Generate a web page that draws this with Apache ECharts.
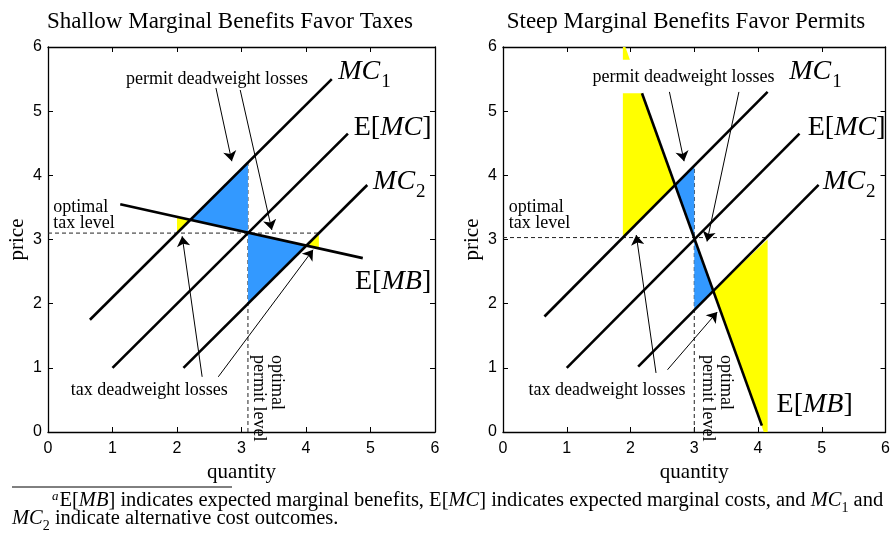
<!DOCTYPE html>
<html>
<head>
<meta charset="utf-8">
<script src="https://cdn.jsdelivr.net/npm/echarts@6/dist/echarts.min.js"></script>
<style>html,body{margin:0;padding:0;background:#fff}#c{width:893px;height:536px}</style>
</head>
<body>
<div id="c"></div>
<script>
// ---------- data ----------
const axisTicks = [0, 1, 2, 3, 4, 5, 6];
const titles = ['Shallow Marginal Benefits Favor Taxes', 'Steep Marginal Benefits Favor Permits'];

// Left panel (shallow MB)
const L_MC1 = [[0.65, 1.75], [4.40, 5.50]];
const L_EMC = [[1.00, 1.00], [4.65, 4.65]];
const L_MC2 = [[2.10, 1.00], [4.95, 3.85]];
const L_EMB = [[1.12, 3.55], [4.88, 2.71]];
const L_taxLevel = [[0, 3.1], [4.2, 3.1]];
const L_permitLevel = [[3.1, 0], [3.1, 4.2]];
const L_blue = [
  [[2.2, 3.3], [3.1, 4.2], [3.1, 3.1]],
  [[3.1, 3.1], [3.1, 2.0], [4.0, 2.9]]
];
const L_yellow = [
  [[2.0, 3.1], [2.0, 3.34], [2.2, 3.3]],
  [[4.0, 2.9], [4.2, 3.1], [4.2, 2.86]]
];
const L_arrows = [
  [[2.60, 5.38], [2.85, 4.22]],
  [[2.98, 5.33], [3.47, 3.15]],
  [[2.39, 0.86], [2.08, 3.05]],
  [[2.64, 0.86], [4.11, 2.84]]
];

// Right panel (steep MB)
const R_MC1 = [[0.65, 1.80], [4.15, 5.30]];
const R_EMC = [[1.00, 1.00], [4.65, 4.65]];
const R_MC2 = [[2.12, 1.02], [4.95, 3.85]];
const R_EMB = [[2.18, 5.28], [4.06, 0.10]];
const R_taxLevel = [[0, 3.03], [4.15, 3.03]];
const R_permitLevel = [[3.0, 0], [3.0, 4.15]];
const R_blue = [
  [[2.70, 3.85], [3.0, 4.15], [3.0, 3.02]],
  [[3.0, 3.0], [3.0, 1.9], [3.3, 2.2]]
];
const R_yellow = [
  [[1.88, 3.03], [1.88, 5.28], [2.18, 5.28], [2.70, 3.85]],
  [[1.88, 5.80], [1.88, 6.00], [1.92, 6.00], [1.99, 5.80]],
  [[3.30, 2.20], [4.15, 3.00], [4.15, 0.00], [4.09, 0.00]]
];
const R_arrows = [
  [[2.61, 5.30], [2.84, 4.22]],
  [[3.70, 5.30], [3.20, 2.97]],
  [[2.40, 0.92], [2.09, 3.07]],
  [[2.58, 0.97], [3.36, 1.87]]
];

// text annotations: [x, y, kind, text]
const L_texts = [
  [2.62, 5.50, 'note', 'permit deadweight losses'],
  [0.08, 3.37, 'noteL', 'optimal\ntax level'],
  [1.57, 0.65, 'note', 'tax deadweight losses'],
  [3.41, 1.20, 'rot', 'optimal\npermit level'],
  [4.50, 5.62, 'big', '{i|MC}{s|1}'],
  [4.74, 4.75, 'big', '{r|E[}{i|MC}{r|]}'],
  [5.04, 3.90, 'big', '{i|MC}{s|2}'],
  [4.76, 2.34, 'big', '{r|E[}{i|MB}{r|]}']
];
const R_texts = [
  [2.83, 5.53, 'note', 'permit deadweight losses'],
  [0.09, 3.37, 'noteL', 'optimal\ntax level'],
  [1.63, 0.65, 'note', 'tax deadweight losses'],
  [3.36, 1.20, 'rot', 'optimal\npermit level'],
  [4.49, 5.62, 'big', '{i|MC}{s|1}'],
  [4.78, 4.75, 'big', '{r|E[}{i|MC}{r|]}'],
  [5.02, 3.90, 'big', '{i|MC}{s|2}'],
  [4.29, 0.42, 'big', '{r|E[}{i|MB}{r|]}']
];

// ---------- styling ----------
const SERIF = '"Liberation Serif", "Times New Roman", serif';
const SANS = '"Liberation Sans", Arial, sans-serif';
const BLUE = '#3399ff';
const YELLOW = '#ffff00';

const bigRich = {
  r: { fontFamily: SERIF, fontSize: 28, fill: '#000' },
  i: { fontFamily: SERIF, fontSize: 28, fontStyle: 'italic', fill: '#000' },
  s: { fontFamily: SERIF, fontSize: 19, fill: '#000', verticalAlign: 'bottom', padding: [0, 0, -6, 1] }
};

function axisCommon(extra) {
  return Object.assign({
    type: 'value', min: 0, max: 6, interval: 1,
    axisLine: { show: true, onZero: false, lineStyle: { color: '#000', width: 1.3 } },
    axisTick: { show: true, inside: true, length: 5, lineStyle: { color: '#000', width: 1 } },
    splitLine: { show: false },
    axisLabel: { color: '#000', fontFamily: SANS, fontSize: 16 }
  }, extra);
}

function xAxes(g) {
  return [
    axisCommon({ gridIndex: g, position: 'bottom', name: 'quantity', nameLocation: 'middle', nameGap: 24,
      nameTextStyle: { fontFamily: SERIF, fontSize: 21, color: '#000' },
      axisLabel: { color: '#000', fontFamily: SANS, fontSize: 16, margin: 9,
        formatter: v => axisTicks.includes(v) ? String(v) : '' } }),
    axisCommon({ gridIndex: g, position: 'top', axisLabel: { show: false } })
  ];
}
function yAxes(g) {
  return [
    axisCommon({ gridIndex: g, position: 'left', name: 'price', nameLocation: 'middle', nameGap: 20,
      nameTextStyle: { fontFamily: SERIF, fontSize: 21, color: '#000' },
      axisLabel: { color: '#000', fontFamily: SANS, fontSize: 16, margin: 6,
        formatter: v => axisTicks.includes(v) ? String(v) : '' } }),
    axisCommon({ gridIndex: g, position: 'right', axisLabel: { show: false } })
  ];
}

function lineSeries(data, xi, yi, dashed) {
  return {
    type: 'line', xAxisIndex: xi, yAxisIndex: yi, data: data, symbol: 'none', silent: true,
    animation: false, z: dashed ? 2 : 4,
    lineStyle: dashed ? { color: '#222', width: 1, type: [4, 3] } : { color: '#000', width: 2.6 }
  };
}

function polySeries(polys, color, xi, yi) {
  return {
    type: 'custom', xAxisIndex: xi, yAxisIndex: yi, silent: true, animation: false, z: 3, clip: true,
    data: polys.map(p => p[0]),
    renderItem: function (params, api) {
      const pts = polys[params.dataIndex].map(p => api.coord(p));
      return { type: 'polygon', shape: { points: pts }, style: { fill: color, stroke: null } };
    }
  };
}

function arrowSeries(arrows, xi, yi) {
  return {
    type: 'lines', coordinateSystem: 'cartesian2d', xAxisIndex: xi, yAxisIndex: yi, silent: true,
    animation: false, z: 5, symbol: ['none', 'arrow'], symbolSize: [0, 10],
    lineStyle: { color: '#000', width: 1, opacity: 1, curveness: 0 },
    data: arrows.map(a => ({ coords: a }))
  };
}

function textSeries(texts, xi, yi) {
  return {
    type: 'custom', xAxisIndex: xi, yAxisIndex: yi, silent: true, animation: false, z: 6, clip: false,
    data: texts.map(t => [t[0], t[1]]),
    renderItem: function (params, api) {
      const t = texts[params.dataIndex];
      const p = api.coord([t[0], t[1]]);
      const kind = t[2];
      if (kind === 'big') {
        return { type: 'text', x: p[0], y: p[1],
          style: { text: t[3], rich: bigRich, align: 'left', verticalAlign: 'middle', fill: '#000' } };
      }
      const base = { text: t[3], fontFamily: SERIF, fontSize: 18, lineHeight: 16, fill: '#000' };
      if (kind === 'note') {
        return { type: 'text', x: p[0], y: p[1],
          style: Object.assign(base, { align: 'center', verticalAlign: 'middle', backgroundColor: '#fff', padding: [1, 2] }) };
      }
      if (kind === 'noteL') {
        return { type: 'text', x: p[0], y: p[1],
          style: Object.assign(base, { align: 'left', verticalAlign: 'middle' }) };
      }
      return { type: 'text', x: p[0], y: p[1], rotation: -Math.PI / 2,
        style: Object.assign(base, { align: 'left', verticalAlign: 'middle', lineHeight: 18 }) };
    }
  };
}

const footRich = {
  r: { fontFamily: SERIF, fontSize: 20.5, fill: '#000' },
  i: { fontFamily: SERIF, fontSize: 20.5, fontStyle: 'italic', fill: '#000' },
  sup: { fontFamily: SERIF, fontSize: 13, fontStyle: 'italic', fill: '#000', verticalAlign: 'top', padding: [0, 1, 6, 0] },
  sub: { fontFamily: SERIF, fontSize: 14, fill: '#000', verticalAlign: 'bottom', padding: [0, 0, -4, 0] }
};

const option = {
  backgroundColor: '#fff',
  animation: false,
  title: [
    { text: titles[0], left: 225, top: 5, textAlign: 'center',
      textStyle: { fontFamily: SERIF, fontSize: 23, fontWeight: 'normal', color: '#000' } },
    { text: titles[1], left: 681, top: 5, textAlign: 'center',
      textStyle: { fontFamily: SERIF, fontSize: 23, fontWeight: 'normal', color: '#000' } }
  ],
  grid: [
    { left: 48, top: 47, width: 387, height: 385 },
    { left: 503, top: 47, width: 388, height: 385 }
  ],
  xAxis: [...xAxes(0), ...xAxes(1)],
  yAxis: [...yAxes(0), ...yAxes(1)],
  graphic: [
    { type: 'line', shape: { x1: 12, y1: 487, x2: 232, y2: 487 }, style: { stroke: '#000', lineWidth: 1 } },
    { type: 'text', x: 52, y: 501,
      style: { text: '{sup|a}{r|E[}{i|MB}{r|] indicates expected marginal benefits, E[}{i|MC}{r|] indicates expected marginal costs, and }{i|MC}{sub|1}{r| and}',
        rich: footRich, verticalAlign: 'middle', align: 'left' } },
    { type: 'text', x: 12, y: 519,
      style: { text: '{i|MC}{sub|2}{r| indicate alternative cost outcomes.}',
        rich: footRich, verticalAlign: 'middle', align: 'left' } }
  ],
  series: [
    polySeries(L_blue, BLUE, 0, 0),
    polySeries(L_yellow, YELLOW, 0, 0),
    lineSeries(L_taxLevel, 0, 0, true),
    lineSeries(L_permitLevel, 0, 0, true),
    lineSeries(L_MC1, 0, 0, false),
    lineSeries(L_EMC, 0, 0, false),
    lineSeries(L_MC2, 0, 0, false),
    lineSeries(L_EMB, 0, 0, false),
    arrowSeries(L_arrows, 0, 0),
    textSeries(L_texts, 0, 0),

    polySeries(R_blue, BLUE, 2, 2),
    polySeries(R_yellow, YELLOW, 2, 2),
    lineSeries(R_taxLevel, 2, 2, true),
    lineSeries(R_permitLevel, 2, 2, true),
    lineSeries(R_MC1, 2, 2, false),
    lineSeries(R_EMC, 2, 2, false),
    lineSeries(R_MC2, 2, 2, false),
    lineSeries(R_EMB, 2, 2, false),
    arrowSeries(R_arrows, 2, 2),
    textSeries(R_texts, 2, 2)
  ]
};

const chart = echarts.init(document.getElementById('c'), null, { renderer: 'canvas' });
chart.setOption(option);
</script>
</body>
</html>
